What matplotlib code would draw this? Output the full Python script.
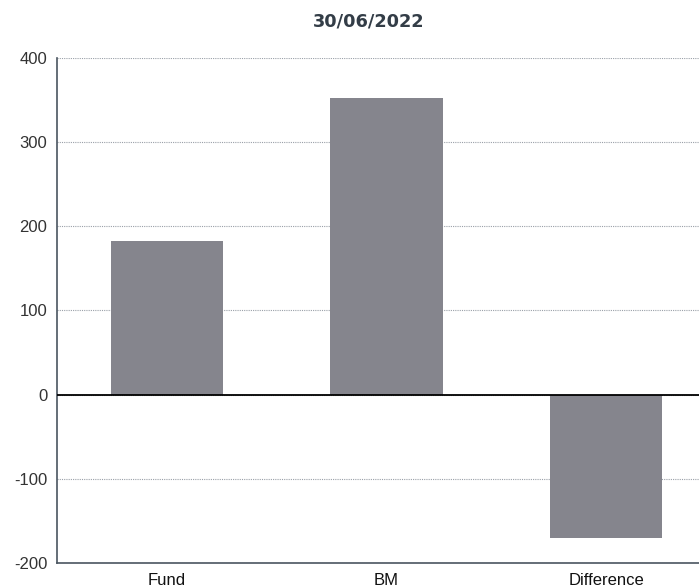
import numpy as np
import matplotlib
matplotlib.use("Agg")
import matplotlib.pyplot as plt

categories = ["Fund", "BM", "Difference"]
values = [182, 353, -170]
yticks = [-200, -100, 0, 100, 200, 300, 400]
title = "30/06/2022"

fig = plt.figure(figsize=(6.99, 5.88), dpi=100)
# axis runs past the right edge of the picture, like the original
ax = fig.add_axes([57/699, 25/588, 659/699, 505/588])

x = np.arange(len(categories))
ax.bar(x, values, width=0.51, color="#85858d", zorder=2)

ax.set_xlim(-0.5, 2.5)
ax.set_ylim(-200, 400)
ax.set_yticks(yticks)
ax.set_yticklabels([str(v) for v in yticks], fontfamily="Liberation Sans",
                   fontsize=12, color="#333333")
ax.set_xticks(x)
ax.set_xticklabels(categories, fontfamily="Liberation Sans", fontsize=12,
                   color="#111111")
ax.tick_params(axis="both", length=0, pad=7)

ax.grid(axis="y", linestyle=(0, (1, 1)), color="#9aa0a8", linewidth=0.8, zorder=0)
ax.axhline(0, color="black", linewidth=1.3, zorder=3)

for s in ["top", "right"]:
    ax.spines[s].set_visible(False)
for s in ["left", "bottom"]:
    ax.spines[s].set_color("#4a5560")
    ax.spines[s].set_linewidth(1.2)

fig.text(369/699, 1 - 21/588, title, ha="center", va="center",
         fontsize=12.8, fontweight="bold", color="#333d47", fontfamily="DejaVu Sans")

fig.savefig("out.png", dpi=100)
